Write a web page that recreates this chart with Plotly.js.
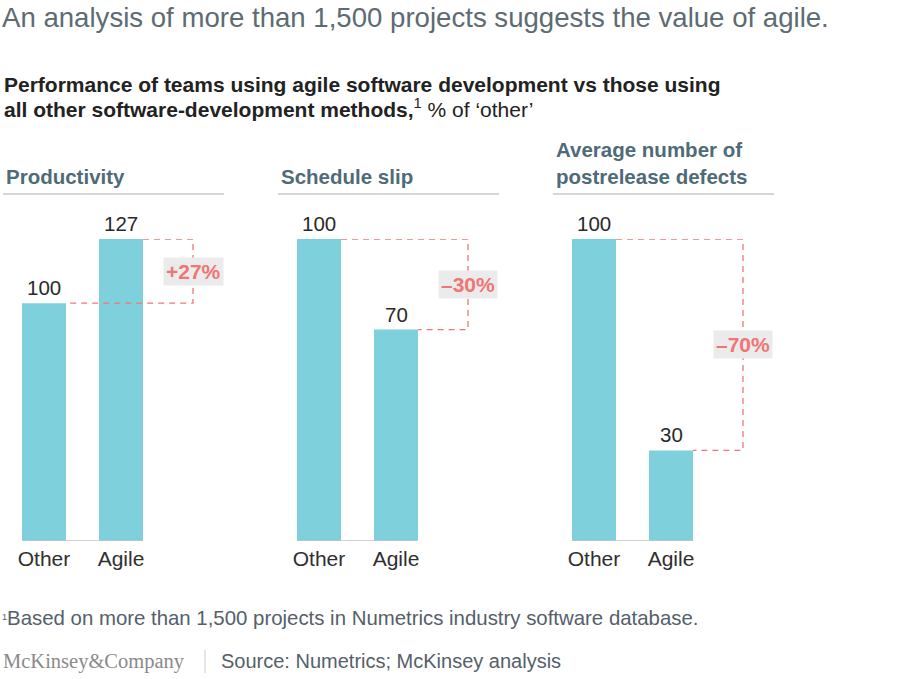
<!DOCTYPE html>
<html>
<head>
<meta charset="utf-8">
<script src="https://cdn.plot.ly/plotly-3.0.1.min.js"></script>
<style>html,body{margin:0;padding:0;background:#fff;}#chart{width:900px;height:679px;}</style>
</head>
<body>
<div id="chart"></div>
<script>
// ---- Data ----
const categories = ["Other", "Agile"];
const panelTitles = ["Productivity", "Schedule slip", "Average number of<br>postrelease defects"];
const productivity = [100, 127];
const scheduleSlip = [100, 70];
const defects = [100, 30];
const changeLabels = ["+27%", "\u201330%", "\u201370%"];

const series = [productivity, scheduleSlip, defects];

// ---- Layout helpers ----
const W = 900, H = 679;
const px = x => x / W;
const py = y => 1 - y / H;
const otherCenters = [44, 319, 594];   // px centre of the "Other" bar in each panel
const band = 77;                       // px per category
const xRange = [-0.5, 2.45];
const baseY = 541, topY = 239;
const barColor = "#7ed0dc";
const accent = "#f07575";
const fontFam = "Liberation Sans, Arial, Helvetica, sans-serif";

const traces = [];
const layout = {
  width: W, height: H,
  margin: {l: 0, r: 0, t: 0, b: 0},
  paper_bgcolor: "#ffffff", plot_bgcolor: "rgba(0,0,0,0)",
  showlegend: false,
  bargap: 1 - 44 / 77,
  font: {family: fontFam, color: "#333"},
  shapes: [], annotations: []
};

series.forEach((vals, i) => {
  const n = i + 1;
  const xa = "x" + (n === 1 ? "" : n), ya = "y" + (n === 1 ? "" : n);
  const xk = "xaxis" + (n === 1 ? "" : n), yk = "yaxis" + (n === 1 ? "" : n);
  const maxV = Math.max(...vals);
  traces.push({
    type: "bar", x: categories, y: vals, xaxis: xa, yaxis: ya,
    marker: {color: barColor, line: {width: 0}},
    hoverinfo: "skip", cliponaxis: false
  });
  const c0 = otherCenters[i];
  layout[xk] = {
    domain: [px(c0 + xRange[0] * band), px(c0 + xRange[1] * band)],
    anchor: ya, type: "category", range: xRange,
    showgrid: false, zeroline: false, showline: false,
    ticks: "", ticklabelstandoff: 3,
    tickfont: {size: 21, color: "#2f2f2f", family: fontFam},
    fixedrange: true
  };
  layout[yk] = {
    domain: [py(baseY), py(topY)],
    anchor: xa, range: [0, maxV],
    showgrid: false, zeroline: false, showline: false, showticklabels: false,
    fixedrange: true
  };
  // baseline
  layout.shapes.push({type: "line", xref: xa, yref: ya, x0: -0.2857, x1: 1.2857, y0: 0, y1: 0,
    line: {color: "#c4c4c4", width: 1.5}, layer: "above"});
  // value labels
  vals.forEach((v, j) => {
    layout.annotations.push({xref: xa, yref: ya, x: j, y: v, text: String(v), showarrow: false,
      yanchor: "bottom", yshift: 2, font: {size: 20.5, color: "#2a2a2a", family: fontFam}});
  });
  // dashed bracket
  const hiIdx = vals[0] >= vals[1] ? 0 : 1, loIdx = 1 - hiIdx;
  const xr = 1.935;
  const hw = 0.2857;
  layout.shapes.push({type: "path", xref: xa, yref: ya,
    path: `M ${hiIdx + hw} ${vals[hiIdx]} L ${xr} ${vals[hiIdx]} L ${xr} ${vals[loIdx]} L ${loIdx + hw} ${vals[loIdx]}`,
    line: {color: accent, width: 1.3, dash: "6px,5px"}});
  layout.annotations.push({xref: xa, yref: ya, x: xr, y: (vals[0] + vals[1]) / 2,
    text: "<b>" + changeLabels[i] + "</b>", showarrow: false,
    bgcolor: "#ebebeb", borderpad: 2,
    font: {size: 21, color: accent, family: fontFam}});
  // panel header
  const left = c0 - 40;
  layout.annotations.push({xref: "paper", yref: "paper", x: px(left), y: py(195), xanchor: "left", yanchor: "bottom",
    yshift: 5, align: "left", text: "<b>" + panelTitles[i] + "</b>", showarrow: false,
    font: {size: 20.5, color: "#4e6b77", family: fontFam}});
  layout.shapes.push({type: "line", xref: "paper", yref: "paper", x0: px(c0 - 41), x1: px(c0 + 180),
    y0: py(194), y1: py(194), line: {color: "#c8c8c8", width: 1.5}});
});

// Title, subtitle, footnotes
layout.annotations.push({xref: "paper", yref: "paper", x: px(0), y: py(17), xanchor: "left", yanchor: "middle",
  text: "An analysis of more than 1,500 projects suggests the value of agile.", showarrow: false,
  font: {size: 27.6, color: "#5d6b72", family: fontFam}});
layout.annotations.push({xref: "paper", yref: "paper", x: px(2), y: py(84), xanchor: "left", yanchor: "middle",
  text: "<b>Performance of teams using agile software development vs those using</b>",
  showarrow: false, font: {size: 21, color: "#222", family: fontFam}});
layout.annotations.push({xref: "paper", yref: "paper", x: px(2), y: py(108), xanchor: "left", yanchor: "middle",
  text: "<b>all other software-development methods,</b><sup>1</sup> % of \u2018other\u2019",
  showarrow: false, font: {size: 21, color: "#222", family: fontFam}});
layout.annotations.push({xref: "paper", yref: "paper", x: px(0), y: py(618), xanchor: "left", yanchor: "middle",
  text: "<span style=\"font-size:13px\"><sup>1</sup></span>Based on more than 1,500 projects in Numetrics industry software database.",
  showarrow: false, font: {size: 20.4, color: "#55606a", family: fontFam}});
layout.annotations.push({xref: "paper", yref: "paper", x: px(1), y: py(661), xanchor: "left", yanchor: "middle",
  text: "McKinsey&amp;Company", showarrow: false,
  font: {size: 20.5, color: "#8a8a8a", family: "Liberation Serif, Times New Roman, serif"}});
layout.shapes.push({type: "line", xref: "paper", yref: "paper", x0: px(205), x1: px(205), y0: py(650), y1: py(673),
  line: {color: "#cccccc", width: 1}});
layout.annotations.push({xref: "paper", yref: "paper", x: px(219), y: py(661), xanchor: "left", yanchor: "middle",
  text: "Source: Numetrics; McKinsey analysis", showarrow: false,
  font: {size: 20, color: "#55606a", family: fontFam}});

Plotly.newPlot("chart", traces, layout, {staticPlot: true, displayModeBar: false});
</script>
</body>
</html>
